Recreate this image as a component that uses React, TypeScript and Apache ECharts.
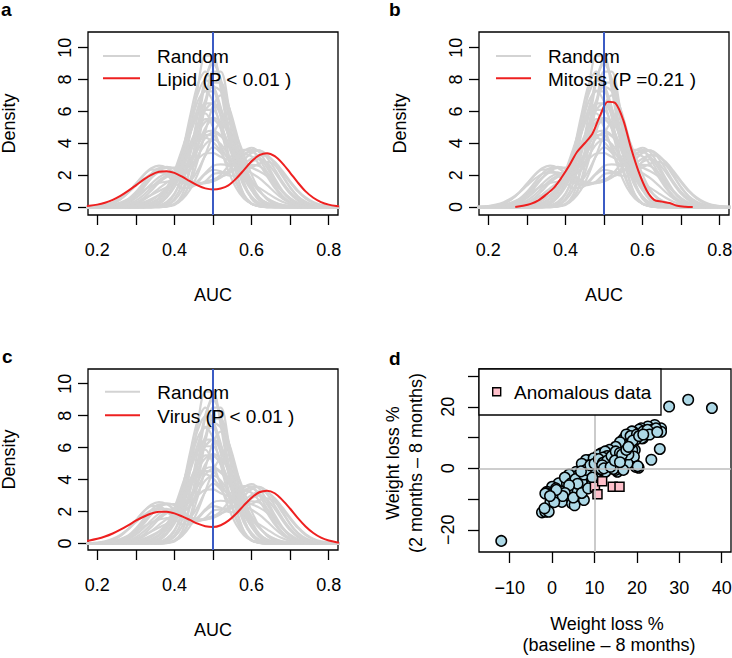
import React, { useEffect, useRef } from 'react';
import * as echarts from 'echarts';

// AUC grid on which density curves are tabulated
const auc = [0.16,0.18,0.2,0.22,0.24,0.26,0.28,0.3,0.32,0.34,0.36,0.38,0.4,0.42,0.44,0.46,0.48,0.5,0.52,0.54,0.56,0.58,0.6,0.62,0.64,0.66,0.68,0.7,0.72,0.74,0.76,0.78,0.8,0.82,0.84];

// Random gene-set density curves
const randomCurves: number[][] = [
  [0,0,0,0,0,0,0,0,0,0,0.05,0.23,0.78,2.12,4.49,7.4,9.5,9.5,7.4,4.49,2.12,0.78,0.23,0.05,0,0,0,0,0,0,0,0,0,0,0],
  [0,0,0,0,0,0,0,0,0,0,0.04,0.15,0.53,1.47,3.24,5.72,8.04,9.0,8.04,5.72,3.24,1.47,0.53,0.15,0.04,0,0,0,0,0,0,0,0,0,0],
  [0,0,0,0,0,0,0,0,0,0.05,0.2,0.65,1.62,3.36,5.63,7.67,8.5,7.67,5.63,3.36,1.62,0.65,0.2,0.05,0,0,0,0,0,0,0,0,0,0,0],
  [0,0,0,0,0,0,0,0,0,0,0.03,0.12,0.41,1.08,2.38,4.32,6.4,7.81,7.81,6.4,4.32,2.38,1.08,0.41,0.12,0.03,0,0,0,0,0,0,0,0,0],
  [0,0,0,0,0,0,0,0,0.02,0.08,0.25,0.66,1.47,2.78,4.49,6.18,7.25,7.25,6.18,4.49,2.78,1.47,0.66,0.25,0.08,0.02,0,0,0,0,0,0,0,0,0],
  [0,0,0,0,0,0,0,0,0,0,0,0.06,0.2,0.6,1.44,2.88,4.72,6.34,7.0,6.34,4.72,2.88,1.44,0.6,0.2,0.06,0,0,0,0,0,0,0,0,0],
  [0,0,0,0,0,0,0,0,0,0.06,0.2,0.62,1.5,3.0,4.92,6.61,7.3,6.61,4.92,3.0,1.5,0.62,0.2,0.06,0,0,0,0,0,0,0,0,0,0,0],
  [0,0,0,0,0,0,0,0,0.03,0.09,0.25,0.6,1.24,2.26,3.58,4.99,6.08,6.5,6.08,4.99,3.58,2.26,1.24,0.6,0.25,0.09,0.03,0,0,0,0,0,0,0,0],
  [0,0,0,0,0,0,0,0.04,0.1,0.25,0.54,1.04,1.82,2.83,3.96,4.94,5.52,5.52,4.94,3.96,2.83,1.82,1.04,0.54,0.25,0.1,0.04,0,0,0,0,0,0,0,0],
  [0,0,0,0,0.01,0.03,0.09,0.22,0.44,0.78,1.17,1.53,1.82,2.16,2.8,3.85,4.96,5.48,5.03,3.99,3.01,2.43,2.12,1.81,1.39,0.93,0.53,0.26,0.11,0.04,0.01,0,0,0,0],
  [0,0,0,0.01,0.04,0.11,0.27,0.56,0.97,1.45,1.87,2.1,2.19,2.38,2.95,3.84,4.53,4.51,3.81,2.96,2.51,2.51,2.65,2.57,2.17,1.58,0.98,0.52,0.23,0.09,0.03,0.01,0,0,0],
  [0,0,0.01,0.02,0.08,0.2,0.44,0.83,1.34,1.84,2.16,2.17,1.9,1.6,1.64,2.28,3.23,3.75,3.4,2.66,2.27,2.44,2.83,3.01,2.77,2.18,1.46,0.83,0.41,0.17,0.06,0.02,0,0,0],
  [0,0,0.01,0.03,0.09,0.22,0.46,0.83,1.32,1.84,2.26,2.46,2.47,2.45,2.62,3.01,3.36,3.39,3.15,2.97,3.08,3.36,3.46,3.15,2.47,1.66,0.95,0.46,0.19,0.07,0.02,0.01,0,0,0],
  [0,0,0.01,0.03,0.09,0.22,0.5,0.94,1.52,2.09,2.45,2.46,2.12,1.68,1.43,1.63,2.14,2.58,2.68,2.65,2.84,3.25,3.57,3.55,3.1,2.38,1.6,0.95,0.49,0.22,0.09,0.03,0.01,0,0],
  [0,0,0,0.02,0.05,0.14,0.34,0.7,1.22,1.82,2.32,2.52,2.39,2.04,1.7,1.52,1.52,1.61,1.84,2.27,2.91,3.5,3.72,3.43,2.69,1.8,1.03,0.5,0.21,0.07,0.02,0.01,0,0,0],
  [0,0.01,0.03,0.1,0.24,0.5,0.9,1.44,2.0,2.43,2.6,2.47,2.11,1.71,1.45,1.43,1.56,1.73,1.88,2.1,2.46,2.96,3.39,3.54,3.28,2.69,1.93,1.21,0.67,0.33,0.14,0.05,0.02,0.01,0],
  [0,0,0,0,0.01,0.03,0.07,0.16,0.3,0.51,0.76,1.09,1.59,2.46,3.74,5.12,6.09,6.09,5.16,3.83,2.66,1.92,1.51,1.2,0.89,0.58,0.33,0.16,0.07,0.02,0.01,0,0,0,0],
  [0,0,0,0.01,0.02,0.06,0.14,0.28,0.5,0.76,1.01,1.25,1.53,1.98,2.68,3.56,4.33,4.67,4.44,3.84,3.16,2.7,2.46,2.25,1.94,1.48,0.98,0.56,0.27,0.11,0.04,0.01,0,0,0],
  [0.01,0.02,0.06,0.15,0.3,0.55,0.9,1.34,1.76,2.08,2.21,2.11,1.85,1.57,1.36,1.39,1.6,2.06,2.14,2.22,2.41,2.7,3.04,3.25,3.19,2.83,2.26,1.62,1.04,0.6,0.31,0.14,0.06,0.02,0.01],
  [0,0,0,0,0,0,0,0,0,0,0,0.03,0.13,0.53,1.61,3.7,6.44,8.5,8.5,6.44,3.7,1.61,0.53,0.13,0.03,0,0,0,0,0,0,0,0,0,0],
  [0,0,0,0,0,0.03,0.1,0.26,0.57,1.03,1.53,1.89,2.02,2.04,2.3,2.98,4.35,4.08,3.53,3.18,3.18,3.31,3.18,2.68,1.94,1.2,0.63,0.29,0.11,0.04,0.01,0,0,0,0],
  [0,0,0,0,0,0,0,0,0.03,0.12,0.35,0.88,1.89,3.44,5.34,7.06,7.96,7.65,6.26,4.37,2.6,1.31,0.57,0.21,0.06,0.02,0,0,0,0,0,0,0,0,0],
  [0,0,0,0,0,0,0,0,0,0.03,0.11,0.33,0.84,1.79,3.27,5.07,6.71,7.56,7.27,5.95,4.15,2.47,1.25,0.54,0.2,0.06,0.02,0,0,0,0,0,0,0,0],
  [0,0,0,0,0,0,0,0.03,0.09,0.23,0.53,1.09,1.98,3.18,4.55,5.78,6.5,6.5,5.78,4.55,3.18,1.98,1.09,0.53,0.23,0.09,0.03,0,0,0,0,0,0,0,0],
  [0,0,0,0,0,0,0.02,0.05,0.12,0.27,0.55,1.02,1.71,2.63,3.66,4.64,5.34,5.6,5.34,4.64,3.66,2.63,1.71,1.02,0.55,0.27,0.12,0.05,0.02,0,0,0,0,0,0],
  [0,0,0,0,0,0,0,0.02,0.07,0.2,0.53,1.19,2.25,3.64,5.01,5.88,5.88,5.01,3.64,2.25,1.19,0.53,0.2,0.07,0.02,0,0,0,0,0,0,0,0,0,0],
  [0,0,0,0,0,0,0,0,0,0,0.02,0.06,0.18,0.48,1.07,2.03,3.28,4.51,5.29,5.29,4.51,3.28,2.03,1.07,0.48,0.18,0.06,0.02,0,0,0,0,0,0,0],
  [0,0,0,0,0,0,0,0,0,0,0,0.04,0.19,0.78,2.29,4.96,7.88,9.2,7.88,4.96,2.29,0.78,0.19,0.04,0,0,0,0,0,0,0,0,0,0,0],
  [0,0,0,0,0,0.02,0.05,0.1,0.21,0.41,0.75,1.24,1.91,2.71,3.52,4.24,4.69,4.79,4.5,3.9,3.12,2.3,1.56,0.97,0.56,0.3,0.14,0.07,0.03,0.01,0,0,0,0,0],
  [0,0.01,0.03,0.08,0.21,0.48,0.9,1.46,2.0,2.35,2.35,2.02,1.56,1.2,1.2,1.55,2.06,2.34,2.24,1.98,1.96,2.3,2.86,3.25,3.23,2.76,2.0,1.24,0.65,0.29,0.11,0.04,0.01,0,0],
  [0,0,0,0,0.02,0.07,0.18,0.4,0.75,1.21,1.67,1.98,2.02,1.85,1.62,1.47,1.5,1.67,2.02,2.58,3.18,3.59,3.55,3.01,2.19,1.35,0.71,0.32,0.12,0.04,0.01,0,0,0,0],
  [0,0.01,0.03,0.07,0.14,0.28,0.49,0.76,1.06,1.32,1.51,1.59,1.66,1.88,2.4,3.2,3.94,4.25,3.95,3.26,2.62,2.36,2.49,2.73,2.83,2.62,2.15,1.54,0.97,0.53,0.26,0.11,0.04,0.01,0],
];

const lipid = [0.04,0.08,0.15,0.27,0.45,0.7,1.01,1.36,1.72,2.02,2.21,2.25,2.14,1.9,1.62,1.36,1.17,1.1,1.16,1.36,1.78,2.32,2.87,3.25,3.38,3.19,2.74,2.15,1.53,0.98,0.58,0.31,0.15,0.07,0.03];
const virus = [0.14,0.2,0.3,0.44,0.63,0.87,1.14,1.43,1.68,1.88,1.99,1.99,1.89,1.7,1.48,1.25,1.09,1.04,1.15,1.44,1.87,2.39,2.87,3.21,3.31,3.15,2.72,2.18,1.59,1.07,0.66,0.37,0.19,0.09,0.04];
const mitosisAuc = [0.27,0.29,0.31,0.33,0.35,0.37,0.39,0.41,0.43,0.45,0.47,0.49,0.51,0.53,0.55,0.57,0.59,0.61,0.63,0.65,0.67,0.69,0.71,0.73];
const mitosis = [0,0.08,0.2,0.42,0.78,1.2,1.85,2.6,3.45,4.0,4.6,5.75,6.6,6.5,5.45,3.7,2.2,1.07,0.45,0.34,0.25,0.08,0.02,0];

const aucTicks = [0.2,0.3,0.4,0.5,0.6,0.7,0.8];
const aucLabels = [0.2,0.4,0.6,0.8];
const densityTicks = [0,2,4,6,8,10];
const baselineTicks = [-10,0,10,20,30,40];
const twoMonthTicks = [-20,-10,0,10,20,30];
const twoMonthLabels = [-20,0,20];

// Panel d: weight loss % (baseline – 8 months, 2 months – 8 months)
const patients: [number, number][] = [
  [-12.0,-23.6],[27.6,20.1],[32.1,22.3],[37.7,19.6],[25.4,6.3],[23.4,2.8],[20.4,0.2],[20.0,0.8],
  [25.7,13.0],[25.7,11.9],[24.2,14.1],[22.6,13.6],[21.0,13.0],[20.5,12.6],[19.1,11.9],[19.5,10.3],
  [21.4,9.8],[21.1,9.8],[19.7,9.3],[18.8,12.0],[17.5,9.8],[17.0,9.8],[16.7,7.0],[18.3,7.6],[17.8,7.1],
  [19.5,6.0],[18.9,6.0],[19.3,3.8],[19.7,0.5],[17.8,1.6],[15.8,6.0],[14.2,5.5],[15.4,3.8],[15.9,4.3],
  [15.4,-1.1],[15.0,-0.5],[13.4,3.3],[13.5,3.3],[13.0,0.5],[12.4,1.1],[11.8,2.7],[11.2,2.7],[11.0,0.5],
  [10.3,3.3],[10.8,1.6],[11.6,4.9],[12.6,4.9],[11.0,4.4],[9.6,1.6],[8.8,2.7],[9.2,0.0],[9.4,0.5],
  [9.4,2.2],[8.0,2.7],[8.3,-1.7],[8.8,-2.2],[7.5,0.0],[7.2,-2.7],[6.3,-1.7],[5.5,-1.7],[5.7,-1.1],
  [5.3,-4.0],[4.7,-3.8],[3.1,-3.8],[2.3,-6.0],[2.9,-6.2],[1.5,-4.9],[0.0,-6.0],[0.9,-6.5],[-1.2,-7.6],
  [-1.4,-8.0],[-1.6,-8.2],[0.1,-9.8],[-0.4,-10.9],[1.2,-9.2],[2.1,-9.3],[2.3,-10.9],[4.5,-8.2],[4.7,-8.2],
  [6.3,-9.2],[6.7,-6.5],[7.5,-10.3],[4.7,-11.4],[5.3,-12.0],[-2.4,-14.3],[-1.6,-14.1],[-0.8,-14.1],
  [-1.8,-13.0],[4.2,-6.5],[6.6,-6.0],[8.6,-3.8],[10.2,-2.7],[11.0,-1.1],[12.6,-1.1],[14.2,1.6],[16.6,6.5],
  [17.0,7.6],[18.2,8.2],[15.8,7.1],[14.3,5.4],[13.5,3.3],[15.1,2.2],[20.2,0.7],[16.5,9.0],[17.5,11.0],
  [18.5,10.5],[20.0,11.0],[22.0,11.5],[21.5,12.0],[23.5,12.5],[24.5,13.0],[16.0,8.5],[15.0,7.0],[13.5,6.0],
  [12.5,5.5],[13.0,4.0],[14.0,2.5],[12.0,3.5],[10.5,2.0],[9.8,3.3],[8.5,1.0],[7.0,1.5],[7.8,-0.8],
  [6.5,-3.0],[5.8,-2.5],[4.0,-2.0],[3.5,-5.0],[5.0,-5.5],[3.8,-7.0],[6.0,-7.5],[8.0,-5.0],[9.5,-4.5],
  [7.0,-4.5],[2.0,-7.5],[1.0,-8.5],[10.0,-1.0],[11.5,-0.2],[12.8,2.2],[14.8,4.5],[16.2,3.0],[17.0,5.0],
  [18.0,4.5],[14.5,-0.2],[16.8,-0.5],[9.0,-1.5],[10.5,-3.5],
  [3.0,-3.0],[4.5,-4.8],[5.5,-3.5],[6.0,-5.0],[7.5,-2.0],[8.0,-0.5],[9.0,1.0],[10.0,1.5],[11.0,3.0],
  [12.0,1.8],[13.0,2.5],[14.0,4.0],[15.0,5.5],[16.0,5.0],[6.8,-1.0],[4.0,-5.5],[3.0,-8.0],[2.5,-9.0],
  [1.0,-7.0],[0.5,-11.0],[-0.5,-9.0],[5.0,-9.5],[7.0,-8.0],[8.5,-6.5],[9.5,-3.0],[11.8,1.0],[12.2,0.0],
  [13.8,0.5],[14.8,2.5],[16.5,4.5],[17.5,6.0],[18.5,8.0],[19.0,9.0],[20.5,10.5],[22.5,12.5],[23.0,11.0],
  [21.5,11.0],[24.8,11.8],[18.0,7.0],[16.0,2.0],
];
const anomalous: [number, number][] = [[10.1,-6.0],[10.7,-8.4],[11.8,-4.2],[14.3,-6.0],[15.9,-6.0]];

const FONT = '"Liberation Sans", Arial, Helvetica, sans-serif';
const GRAY = '#d3d3d3';
const RED = '#ee2020';
const BLUE = '#3b5bc4';

export default function App() {
  const ref = useRef<HTMLDivElement>(null);
  useEffect(() => {
    if (!ref.current) return;
    const chart = echarts.init(ref.current, null, { renderer: 'svg' });

    const densityPanels = [
      { label: 'Lipid (P < 0.01 )', xs: auc, ys: lipid, ymin: -0.5, ymax: 10.98 },
      { label: 'Mitosis (P =0.21 )', xs: mitosisAuc, ys: mitosis, ymin: -0.5, ymax: 10.98 },
      { label: 'Virus (P < 0.01 )', xs: auc, ys: virus, ymin: -0.4, ymax: 10.92 },
    ];

    const grids = [
      { left: 88, top: 32, width: 250, height: 183 },
      { left: 479, top: 32, width: 250, height: 183 },
      { left: 88, top: 369, width: 250, height: 181 },
      { left: 479, top: 369, width: 252, height: 183 },
    ].map(g => ({ ...g, show: true, borderColor: '#000', borderWidth: 1.3, backgroundColor: 'transparent', containLabel: false, outerBoundsMode: 'none' }));

    const tickStyle = { lineStyle: { color: '#000', width: 1.3 } };
    const labelBase = { color: '#000', fontSize: 18, fontFamily: FONT };
    const noLine = { show: false, onZero: false };
    const minus = (v: number) => String(v).replace('-', '\u2212');

    const xAxis: any[] = [];
    const yAxis: any[] = [];
    densityPanels.forEach((p, k) => {
      xAxis.push({
        gridIndex: k, type: 'value', min: 0.176, max: 0.824,
        axisLine: noLine, splitLine: { show: false },
        axisTick: { show: true, length: 10, inside: false, customValues: aucTicks, ...tickStyle },
        axisLabel: { ...labelBase, margin: 25.5, customValues: aucLabels, formatter: (v: number) => v.toFixed(1) },
      });
      yAxis.push({
        gridIndex: k, type: 'value', min: p.ymin, max: p.ymax,
        axisLine: noLine, splitLine: { show: false },
        axisTick: { show: true, length: 10, inside: false, customValues: densityTicks, ...tickStyle },
        axisLabel: { ...labelBase, margin: 14, rotate: 90, customValues: densityTicks, formatter: (v: number) => String(v) },
      });
    });
    xAxis.push({
      gridIndex: 3, type: 'value', min: -17.25, max: 42.2,
      axisLine: noLine, splitLine: { show: false },
      axisTick: { show: true, length: 11, inside: false, customValues: baselineTicks, ...tickStyle },
      axisLabel: { ...labelBase, margin: 26.5, customValues: baselineTicks, formatter: minus },
    });
    yAxis.push({
      gridIndex: 3, type: 'value', min: -27.2, max: 32.3,
      axisLine: noLine, splitLine: { show: false },
      axisTick: { show: true, length: 11, inside: false, customValues: twoMonthTicks, ...tickStyle },
      axisLabel: { ...labelBase, margin: 22.5, rotate: 90, customValues: twoMonthLabels, formatter: minus },
    });

    const series: any[] = [];
    densityPanels.forEach((p, k) => {
      randomCurves.forEach((curve) => {
        series.push({
          type: 'line', name: 'Random', xAxisIndex: k, yAxisIndex: k, silent: true,
          data: auc.map((x, i) => [x, curve[i]]),
          showSymbol: false, symbol: 'none', smooth: 0.3,
          lineStyle: { color: GRAY, width: 2.2 }, z: 2,
        });
      });
      series.push({
        type: 'line', name: p.label, xAxisIndex: k, yAxisIndex: k, silent: true,
        data: p.xs.map((x, i) => [x, p.ys[i]]),
        showSymbol: false, symbol: 'none', smooth: 0.3,
        lineStyle: { color: RED, width: 2 }, z: 3,
      });
      series.push({
        type: 'line', xAxisIndex: k, yAxisIndex: k, silent: true, data: [], z: 4,
        markLine: {
          silent: true, symbol: ['none', 'none'], label: { show: false },
          lineStyle: { color: BLUE, width: 2, type: 'solid' },
          emphasis: { disabled: true },
          data: [{ xAxis: 0.5 }],
        },
      });
    });
    series.push({
      type: 'scatter', xAxisIndex: 3, yAxisIndex: 3, silent: true, data: [], z: 1,
      markLine: {
        silent: true, symbol: ['none', 'none'], label: { show: false },
        lineStyle: { color: '#bebebe', width: 1.6, type: 'solid' },
        emphasis: { disabled: true },
        data: [{ xAxis: 10 }, { yAxis: 0 }],
      },
    });
    series.push({
      type: 'scatter', xAxisIndex: 3, yAxisIndex: 3, silent: true, data: patients,
      symbol: 'circle', symbolSize: 10.5,
      itemStyle: { color: '#add8e6', borderColor: '#000', borderWidth: 1.5, opacity: 1 }, z: 2,
    });
    series.push({
      type: 'scatter', name: 'Anomalous data', xAxisIndex: 3, yAxisIndex: 3, silent: true, data: anomalous,
      symbol: 'rect', symbolSize: 9,
      itemStyle: { color: '#ffc0cb', borderColor: '#000', borderWidth: 1.5, opacity: 1 }, z: 3,
    });

    const txt = (text: string, x: number, y: number, size: number, opts: any = {}) => ({
      type: 'text', x, y, rotation: opts.rotation || 0, silent: true, z: 100,
      style: {
        text, fill: '#000',
        font: `${opts.bold ? 'bold ' : ''}${size}px ${FONT}`,
        textAlign: opts.align || 'center', align: opts.align || 'center',
        textVerticalAlign: opts.valign || 'middle', verticalAlign: opts.valign || 'middle',
      },
    });
    const seg = (x1: number, x2: number, y: number, color: string) => ({
      type: 'line', silent: true, z: 100,
      shape: { x1, y1: y, x2, y2: y }, style: { stroke: color, lineWidth: 2 },
    });

    const graphic: any[] = [
      txt('a', 1, 0, 19, { bold: true, align: 'left', valign: 'top' }),
      txt('b', 389, 0, 19, { bold: true, align: 'left', valign: 'top' }),
      txt('c', 2, 347, 19, { bold: true, align: 'left', valign: 'top' }),
      txt('d', 389, 349, 19, { bold: true, align: 'left', valign: 'top' }),
      txt('AUC', 213, 295, 18), txt('AUC', 604, 295, 18), txt('AUC', 213, 630, 18),
      txt('Density', 8.5, 123.5, 18, { rotation: Math.PI / 2 }),
      txt('Density', 400, 123.5, 18, { rotation: Math.PI / 2 }),
      txt('Density', 9, 459.5, 18, { rotation: Math.PI / 2 }),
      txt('Weight loss %', 393, 463, 18, { rotation: Math.PI / 2 }),
      txt('(2 months \u2013 8 months)', 415.5, 463, 18, { rotation: Math.PI / 2 }),
      txt('Weight loss %', 607, 623.5, 18),
      txt('(baseline \u2013 8 months)', 609, 645, 18),
      // legends a-c
      seg(103, 140, 56, GRAY), seg(103, 140, 78.3, RED),
      txt('Random', 157, 56.5, 19, { align: 'left' }), txt(densityPanels[0].label, 157, 79, 19, { align: 'left' }),
      seg(496, 531, 56, GRAY), seg(496, 531, 78.3, RED),
      txt('Random', 548, 56.5, 19, { align: 'left' }), txt(densityPanels[1].label, 548, 79, 19, { align: 'left' }),
      seg(105, 140, 391.7, GRAY), seg(105, 140, 415.3, RED),
      txt('Random', 157.3, 392.7, 19, { align: 'left' }), txt(densityPanels[2].label, 157.3, 416, 19, { align: 'left' }),
      // legend d
      { type: 'rect', silent: true, z: 99, shape: { x: 479, y: 369, width: 182, height: 46 }, style: { fill: '#fff', stroke: '#000', lineWidth: 1.3 } },
      { type: 'rect', silent: true, z: 100, shape: { x: 492.7, y: 387.7, width: 8, height: 8 }, style: { fill: '#ffc0cb', stroke: '#000', lineWidth: 1.4 } },
      txt('Anomalous data', 514, 392, 19, { align: 'left' }),
    ];

    chart.setOption({
      animation: false,
      backgroundColor: '#fff',
      textStyle: { fontFamily: FONT },
      grid: grids,
      xAxis,
      yAxis,
      series,
      graphic,
    });
    return () => chart.dispose();
  }, []);
  return <div ref={ref} style={{ position: 'absolute', left: 0, top: 0, width: 732, height: 658, background: '#fff' }} />;
}
